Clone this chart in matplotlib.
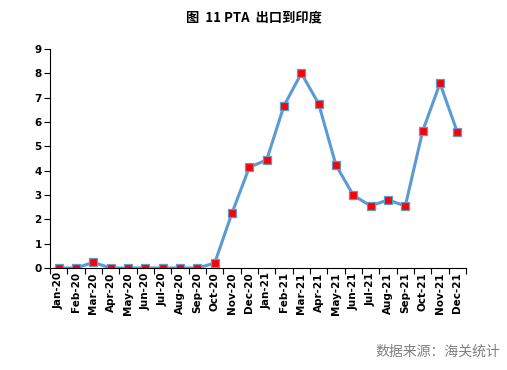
import matplotlib.pyplot as plt
import numpy as np

plt.rcParams['font.family'] = ['Noto Sans CJK SC', 'DejaVu Sans']

months = ['Jan-20', 'Feb-20', 'Mar-20', 'Apr-20', 'May-20', 'Jun-20', 'Jul-20', 'Aug-20',
          'Sep-20', 'Oct-20', 'Nov-20', 'Dec-20', 'Jan-21', 'Feb-21', 'Mar-21', 'Apr-21',
          'May-21', 'Jun-21', 'Jul-21', 'Aug-21', 'Sep-21', 'Oct-21', 'Nov-21', 'Dec-21']
values = [0, 0, 0.23, 0, 0, 0, 0, 0, 0, 0.2, 2.26, 4.14, 4.44, 6.67, 8.0, 6.75,
          4.22, 2.99, 2.55, 2.8, 2.55, 5.63, 7.59, 5.58]

fig = plt.figure(figsize=(5.07, 3.7), dpi=100)
ax = fig.add_axes([50 / 507, 102 / 370, 416 / 507, 219 / 370])

x = np.arange(len(months))
ax.plot(x, values, color='#5B9BD5', linewidth=2.2, marker='s', markersize=6,
        markerfacecolor='red', markeredgecolor='#5B9BD5', markeredgewidth=0.9)

ax.set_xlim(-0.5, len(months) - 0.5)
ax.set_ylim(0, 9)
ax.set_yticks(range(10))
ax.set_xticks(x)
ax.set_xticklabels(months, rotation=90, fontsize=7.5, fontweight='bold', family='DejaVu Sans')
ax.set_xticks(np.arange(-0.5, len(months), 1), minor=True)
ax.tick_params(axis='x', which='major', length=0, pad=3)
ax.tick_params(axis='x', which='minor', length=4, width=0.8)
ax.tick_params(axis='y', length=4, width=0.8, labelsize=7.5, pad=2)
for lab in ax.get_yticklabels():
    lab.set_fontweight('bold')
    lab.set_family('DejaVu Sans')

for s in ['top', 'right']:
    ax.spines[s].set_visible(False)
ax.spines['left'].set_linewidth(0.8)
ax.spines['bottom'].set_linewidth(0.8)

fig.text(0.5, 1 - 17 / 370, '图  11 PTA  出口到印度', ha='center', va='center',
         fontsize=9.5, fontweight='bold')
fig.text(500 / 507, 1 - 352 / 370, '数据来源：海关统计', ha='right', va='center',
         fontsize=10, color='#808080')

fig.savefig('out.png', dpi=100)
